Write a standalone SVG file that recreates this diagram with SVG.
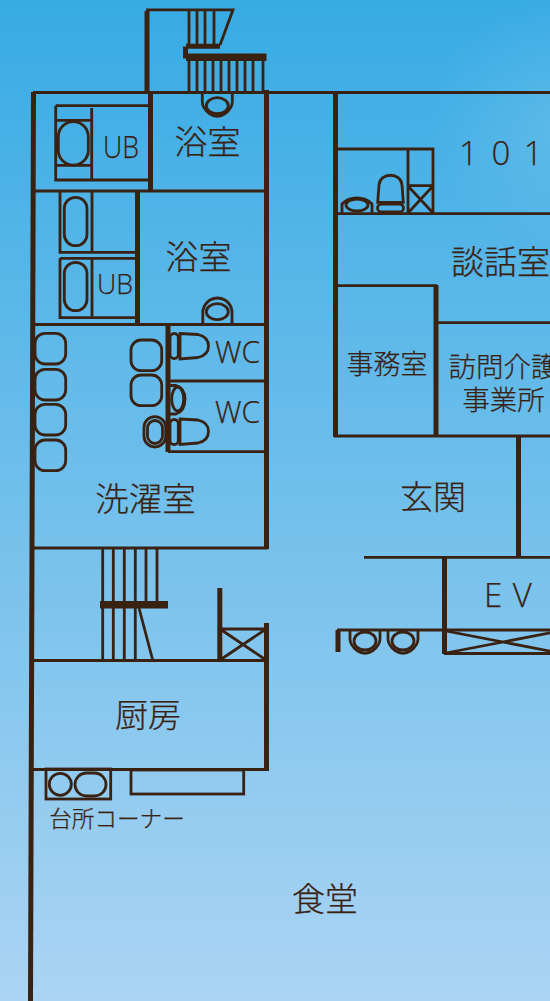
<svg xmlns="http://www.w3.org/2000/svg" width="550" height="1001" viewBox="0 0 550 1001">
<style>
.l{fill:none;stroke:#3a2213;stroke-width:2.8}
.w{fill:none;stroke:#3a2213;stroke-width:5}
.t{fill:#3a2213;stroke:#3a2213;stroke-width:.25;font-family:"Noto Sans CJK JP","Noto Sans",sans-serif;font-weight:300;font-size:33px;text-anchor:middle}
.e{fill:#3a2213;stroke:#3a2213;stroke-width:.25;font-family:"Open Sans","Noto Sans",sans-serif;font-weight:300;font-size:31px}
</style>
<defs>
<linearGradient id="bg" x1="0" y1="0" x2="0" y2="1"><stop offset="0" stop-color="#37abe4"/><stop offset="1" stop-color="#abd4f3"/></linearGradient>
<radialGradient id="glow" gradientUnits="userSpaceOnUse" cx="560" cy="120" r="130"><stop offset="0" stop-color="#ffffff" stop-opacity=".12"/><stop offset="1" stop-color="#ffffff" stop-opacity="0"/></radialGradient>
<path id="wcb" d="M180 333.500 L198 334.500 Q208.500 337 208.500 346 Q208.500 355 198 357.500 L180 359 Z"/>
<path id="ub" d="M-15 0 V9 Q-15 15 -8 20.500 Q0 26 8 20.500 Q15 15 15 9 V0"/>
</defs>
<rect width="550" height="1001" fill="url(#bg)"/>
<rect x="420" y="0" width="130" height="260" fill="url(#glow)"/>
<g id="walls">
<path class="w" d="M33.500 92 L30.500 1001"/>
<path class="l" d="M33 92.500 H550"/>
<path class="w" d="M147 11 V92 M150.500 92 V191 M266.500 90 V549 M137.500 191 V324 M168 325 V452 M219.800 588 V661 M266.500 623 V771 M335.500 92 V437 M436 285 V437 M518.500 437 V557 M444.500 557 V654 M338 630 V652"/>
<path class="l" d="M33 191 H266 M33 324.500 H266 M168 381 H266 M168 451.700 H268 M33 548 H268 M33 660.500 H266 M33 769.500 H268 M335 213.700 H550 M335 285.700 H437 M436 322.700 H550 M334 436 H550 M364 557.300 H550 M337 630 H550 M444 653.500 H550"/>
</g>
<g id="stairs">
<path class="l" d="M146 9.800 H233 L220 45 M189 10 V45 M197 10 V45 M205 10 V45 M214 10 V45 M189 60 V92 M197 60 V92 M205 60 V92 M213 60 V92 M221 60 V92 M229 60 V92 M237 60 V92 M245 60 V92 M253 60 V92 M263 60 V92"/>
<path d="M186 43.700H220V48.700H186ZM183 46.500H188V58.500H183ZM186 53.500H266.500V61H186Z" fill="#3a2213"/>
<path class="l" d="M102.700 548 V660 M113.300 548 V660 M124.300 548 V660 M135.300 548 V660 M146 548 V601 M157 548 V601 M139 608 L152.700 660"/>
<rect x="100" y="601" width="68" height="7.500" fill="#3a2213"/>
</g>
<g id="fixtures">
<path class="l" d="M55.700 105.700 H150 M55.700 105.700 V180 H150 M91.700 108 V180 M55.700 120.300 H91 M55.700 165.300 H91"/>
<rect class="l" x="58.300" y="121.700" width="30" height="43.500" rx="15"/>
<path class="l" d="M60 191 V252.300 H136 M92 191 V252 M60 258.300 H136 M60 258.300 V317.700 H136 M92 258 V317"/>
<rect class="l" x="64.300" y="197.300" width="22.700" height="48.400" rx="11.300"/>
<rect class="l" x="64.300" y="262.300" width="22.700" height="48.400" rx="11.300"/>
<use class="l" href="#ub" x="217.300" y="93"/>
<ellipse class="l" cx="217.300" cy="105.700" rx="11" ry="8"/>
<path class="l" d="M202.800 324 V311 Q204 304 210 300 Q217.300 296 225 300 Q231 304 232 311 V324"/>
<ellipse class="l" cx="217.300" cy="311.700" rx="11" ry="8"/>
<rect class="l" x="35" y="333.300" width="30.700" height="30.700" rx="10"/>
<rect class="l" x="35" y="369.300" width="30.700" height="30.700" rx="10"/>
<rect class="l" x="35" y="404.300" width="30.700" height="30.700" rx="10"/>
<rect class="l" x="35" y="440" width="30.700" height="30.700" rx="10"/>
<rect class="l" x="131" y="340" width="30.700" height="30.700" rx="10"/>
<rect class="l" x="131" y="375" width="30.700" height="30.700" rx="10"/>
<rect class="l" x="170" y="333.500" width="8.300" height="25" rx="4"/>
<use class="l" href="#wcb"/>
<rect class="l" x="170" y="419.500" width="8.300" height="25" rx="4"/>
<use class="l" href="#wcb" y="85.500"/>
<ellipse class="l" cx="177.700" cy="399" rx="6" ry="12" stroke-width="3"/>
<path class="l" d="M170 385.500 H176 Q185 388 185 399 Q185 411 176 414 H170"/>
<rect class="l" x="144" y="416.700" width="21.700" height="30.300" rx="10.800"/>
<rect class="l" x="147.500" y="420.500" width="15" height="23" rx="7.500"/>
<path class="l" d="M220 629 H266 M220 660 L266 629 M220 629 L266 660"/>
<rect class="l" x="46" y="769" width="64.700" height="30"/>
<circle class="l" cx="60.300" cy="784.300" r="11"/>
<rect class="l" x="75" y="773" width="31" height="23" rx="11.500"/>
<rect class="l" x="131" y="770" width="112.700" height="24"/>
<path class="l" d="M335 149 H433 V213.700 M408 149 V213.700 M408 185.700 H433 M408 213 L433 186 M408 186 L433 213"/>
<path class="l" d="M377.700 202.300 L379 185 C380 172 401 172 402 185 L403.300 202.300 Z"/>
<rect class="l" x="377.500" y="204" width="26" height="8" rx="4"/>
<ellipse class="l" cx="357" cy="205" rx="11" ry="6"/>
<path class="l" d="M342 213 V204 Q348 198 357 198 Q366 198 372 204 V213"/>
<use class="l" href="#ub" x="365" y="630"/>
<ellipse class="l" cx="365" cy="641" rx="11" ry="9"/>
<use class="l" href="#ub" x="403" y="630"/>
<ellipse class="l" cx="403" cy="641" rx="11" ry="9"/>
<path class="l" d="M446 631 L560 653 M446 653 L560 631"/>
</g>
<g id="labels">
<text class="e" x="103" y="158" textLength="36" lengthAdjust="spacingAndGlyphs">UB</text>
<text class="e" x="97" y="294" style="font-size:28px" textLength="36" lengthAdjust="spacingAndGlyphs">UB</text>
<text class="e" x="215" y="363" textLength="45" lengthAdjust="spacingAndGlyphs">WC</text>
<text class="e" x="215" y="423" textLength="45" lengthAdjust="spacingAndGlyphs">WC</text>
<text class="t" x="207.500" y="154">浴室</text>
<text class="t" x="198.500" y="269">浴室</text>
<text class="t" x="145.500" y="511" style="font-size:33.500px">洗濯室</text>
<text class="t" x="148" y="727">厨房</text>
<text class="t" x="117" y="827" style="font-size:22.600px">台所コーナー</text>
<text class="t" x="325" y="911">食堂</text>
<text class="t" x="433" y="509">玄関</text>
<text class="t" x="500.500" y="274">談話室</text>
<text class="t" x="387" y="374" style="font-size:27px">事務室</text>
<text class="t" x="503.500" y="377" style="font-size:27.500px">訪問介護</text>
<text class="t" x="503.500" y="410" style="font-size:27.500px">事業所</text>
<text class="e" x="459" y="165" style="font-size:33px;letter-spacing:2.500px">1 0 1</text>
<text class="e" x="484" y="607" style="font-size:33px;letter-spacing:1px">E V</text>
</g>
</svg>
